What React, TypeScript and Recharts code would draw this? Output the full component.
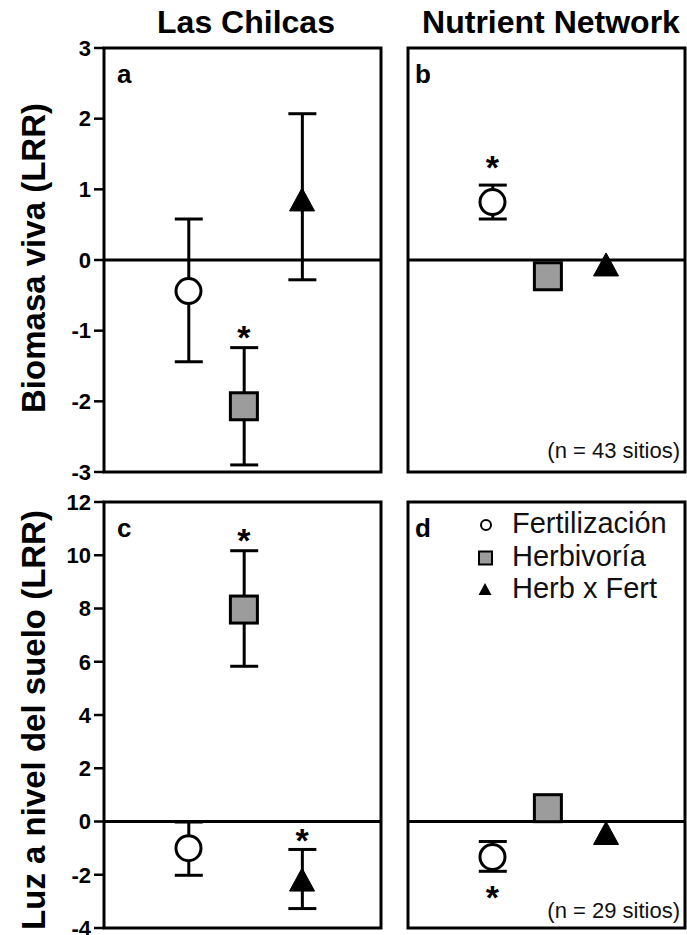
import React from 'react';
import { ComposedChart, Scatter, Bar, XAxis, YAxis, ReferenceLine, ReferenceArea, Legend } from 'recharts';

const FONT = '"Liberation Sans", Arial, Helvetica, sans-serif';

// categories
const treatments = ['Fertilización', 'Herbivoría', 'Herb x Fert'];
const kinds = ['circle', 'square', 'triangle'];
const xPos = [3.05, 5.05, 7.15];

// Panel a – Biomasa viva, Las Chilcas
const biomasaChilcas = [-0.44, -2.07, 0.85];
const biomasaChilcasLo = [-1.44, -2.9, -0.28];
const biomasaChilcasHi = [0.58, -1.24, 2.07];
// Panel b – Biomasa viva, Nutrient Network (null = error bar hidden inside the symbol)
const biomasaNutNet = [0.82, -0.23, -0.07];
const biomasaNutNetLo = [0.58, -0.3, null];
const biomasaNutNetHi = [1.06, -0.16, null];
// Panel c – Luz a nivel del suelo, Las Chilcas
const luzChilcas = [-1.0, 7.96, -2.2];
const luzChilcasLo = [-2.02, 5.83, -3.27];
const luzChilcasHi = [-0.02, 10.17, -1.05];
// Panel d – Luz a nivel del suelo, Nutrient Network
const luzNutNet = [-1.33, 0.5, -0.45];
const luzNutNetLo = [-1.87, 0.35, null];
const luzNutNetHi = [-0.75, 0.65, null];

// significance stars (y position of the asterisk, null = not significant)
const starsA = [null, -0.99, null];
const starsB = [1.41, null, null];
const starsC = [null, 10.84, -0.45];
const starsD = [-2.58, null, null];

// ticks
const biomasaTicks = [-3, -2, -1, 0, 1, 2, 3];
const luzTicks = [-4, -2, 0, 2, 4, 6, 8, 10, 12];

const build = (vals: number[], lo: (number | null)[], hi: (number | null)[], stars: (number | null)[]) =>
  vals.map((v, i) => ({
    x: xPos[i],
    name: treatments[i],
    y: v,
    kind: kinds[i],
    range: lo[i] == null || hi[i] == null ? null : [lo[i], hi[i]],
    star: stars[i],
  }));

const bad = (v: any) => v == null || isNaN(v);

const Marker = (props: any) => {
  const { cx, cy, payload } = props;
  if (bad(cx) || bad(cy)) return null;
  if (payload.kind === 'circle')
    return <circle cx={cx} cy={cy} r={12.5} fill="#fff" stroke="#000" strokeWidth={3} />;
  if (payload.kind === 'square')
    return <rect x={cx - 13.5} y={cy - 13.5} width={27} height={27} fill="#9c9c9c" stroke="#000" strokeWidth={3} />;
  return <polygon points={`${cx},${cy - 12} ${cx + 12.5},${cy + 11} ${cx - 12.5},${cy + 11}`} fill="#000" stroke="#000" strokeWidth={1} />;
};

// error bar drawn from a ranged bar [lo, hi]
const ErrShape = (props: any) => {
  const { x, y, width, height, payload } = props;
  if ([x, y, width, height].some(bad) || (payload && payload.range == null)) return null;
  const mid = x + width / 2;
  const top = y;
  const bot = y + height;
  return (
    <g>
      <line x1={mid} x2={mid} y1={top} y2={bot} stroke="#000" strokeWidth={3} />
      <line x1={mid - 14} x2={mid + 14} y1={top} y2={top} stroke="#000" strokeWidth={3} />
      <line x1={mid - 14} x2={mid + 14} y1={bot} y2={bot} stroke="#000" strokeWidth={3} />
    </g>
  );
};

const Star = (props: any) => {
  const { cx, cy, payload } = props;
  if (bad(cx) || bad(cy) || payload == null || payload.star == null) return null;
  return (
    <text x={cx} y={cy + 19} textAnchor="middle" fontSize={34} fontWeight="bold" fontFamily={FONT} fill="#000">
      *
    </text>
  );
};

const LegendContent = () => (
  <svg width={215} height={100} style={{ display: 'block' }}>
    {treatments.map((t, i) => {
      const cy = [17, 50, 81][i];
      const base = [25, 58, 90][i];
      let m: any;
      if (kinds[i] === 'circle') m = <circle cx={11} cy={cy} r={5} fill="#fff" stroke="#000" strokeWidth={2} />;
      else if (kinds[i] === 'square') m = <rect x={4} y={cy - 6.5} width={13} height={13} fill="#9c9c9c" stroke="#000" strokeWidth={2} />;
      else m = <polygon points={`${10},${cy - 6} ${16.5},${cy + 6} ${3.5},${cy + 6}`} fill="#000" />;
      return (
        <g key={t}>
          {m}
          <text x={37} y={base} fontSize={29} fontFamily={FONT} fill="#111">
            {t}
          </text>
        </g>
      );
    })}
  </svg>
);

type PanelProps = {
  left: number;
  top: number;
  width: number;
  height: number;
  margin: { top: number; right: number; bottom: number; left: number };
  yWidth: number;
  domain: [number, number];
  ticks: number[];
  labels: boolean;
  data: any[];
  legend?: boolean;
};

const Panel = (p: PanelProps) => (
  <div style={{ position: 'absolute', left: p.left, top: p.top }}>
    <ComposedChart width={p.width} height={p.height} margin={p.margin} data={p.data}>
      <XAxis type="number" dataKey="x" domain={[0, 10]} hide allowDataOverflow />
      <YAxis
        type="number"
        domain={p.domain}
        ticks={p.ticks}
        interval={0}
        width={p.yWidth}
        axisLine={false}
        tickLine={{ stroke: '#000', strokeWidth: 2.5 }}
        tickSize={10}
        tickMargin={3}
        tick={p.labels ? { fill: '#000', fontSize: 22, fontWeight: 'bold', fontFamily: FONT } : false}
        allowDataOverflow
      />
      <ReferenceArea
        x1={0}
        x2={10}
        y1={p.domain[0]}
        y2={p.domain[1]}
        fill="none"
        fillOpacity={0}
        stroke="#000"
        strokeWidth={3}
        ifOverflow="visible"
      />
      <ReferenceLine y={0} stroke="#000" strokeWidth={3} />
      <Bar dataKey="range" barSize={28} shape={ErrShape} isAnimationActive={false} legendType="none" />
      <Scatter dataKey="y" shape={Marker} isAnimationActive={false} />
      <Scatter dataKey="star" shape={Star} isAnimationActive={false} legendType="none" />
      {p.legend && (
        <Legend
          layout="vertical"
          align="center"
          verticalAlign="middle"
          content={LegendContent}
          wrapperStyle={{ left: 90, top: 32, width: 215, height: 100 }}
        />
      )}
    </ComposedChart>
  </div>
);

export default function App() {
  const topMargin = { top: 48, right: 4, bottom: 18, left: 0 };
  const topMarginR = { top: 48, right: 2, bottom: 18, left: 0 };
  const botMargin = { top: 26, right: 4, bottom: 7, left: 0 };
  const botMarginR = { top: 26, right: 2, bottom: 7, left: 0 };
  return (
    <div style={{ position: 'absolute', left: 0, top: 0, width: 687, height: 935, background: '#fff', fontFamily: FONT }}>
      <Panel left={0} top={0} width={385} height={490} margin={topMargin} yWidth={104} domain={[-3, 3]} ticks={biomasaTicks} labels data={build(biomasaChilcas, biomasaChilcasLo, biomasaChilcasHi, starsA)} />
      <Panel left={385} top={0} width={302} height={490} margin={topMarginR} yWidth={23} domain={[-3, 3]} ticks={biomasaTicks} labels={false} data={build(biomasaNutNet, biomasaNutNetLo, biomasaNutNetHi, starsB)} />
      <Panel left={0} top={476} width={385} height={459} margin={botMargin} yWidth={104} domain={[-4, 12]} ticks={luzTicks} labels data={build(luzChilcas, luzChilcasLo, luzChilcasHi, starsC)} />
      <Panel left={385} top={476} width={302} height={459} margin={botMarginR} yWidth={23} domain={[-4, 12]} ticks={luzTicks} labels={false} data={build(luzNutNet, luzNutNetLo, luzNutNetHi, starsD)} legend />
      <svg width={687} height={935} style={{ position: 'absolute', left: 0, top: 0, pointerEvents: 'none' }} fontFamily={FONT}>
        <text x={246} y={33} textAnchor="middle" fontSize={32} fontWeight="bold" fill="#000">Las Chilcas</text>
        <text x={551} y={33} textAnchor="middle" fontSize={32} fontWeight="bold" fill="#000">Nutrient Network</text>
        <text transform="translate(45,258) rotate(-90)" textAnchor="middle" fontSize={33} fontWeight="bold" fill="#000">Biomasa viva (LRR)</text>
        <text transform="translate(45,720) rotate(-90)" textAnchor="middle" fontSize={33} fontWeight="bold" fill="#000">Luz a nivel del suelo (LRR)</text>
        <text x={117} y={83} fontSize={26} fontWeight="bold" fill="#000">a</text>
        <text x={415} y={83} fontSize={26} fontWeight="bold" fill="#000">b</text>
        <text x={117} y={537} fontSize={26} fontWeight="bold" fill="#000">c</text>
        <text x={415} y={537} fontSize={26} fontWeight="bold" fill="#000">d</text>
        <text x={680} y={458} textAnchor="end" fontSize={22} fill="#111">(n = 43 sitios)</text>
        <text x={680} y={918} textAnchor="end" fontSize={22} fill="#111">(n = 29 sitios)</text>
      </svg>
    </div>
  );
}
